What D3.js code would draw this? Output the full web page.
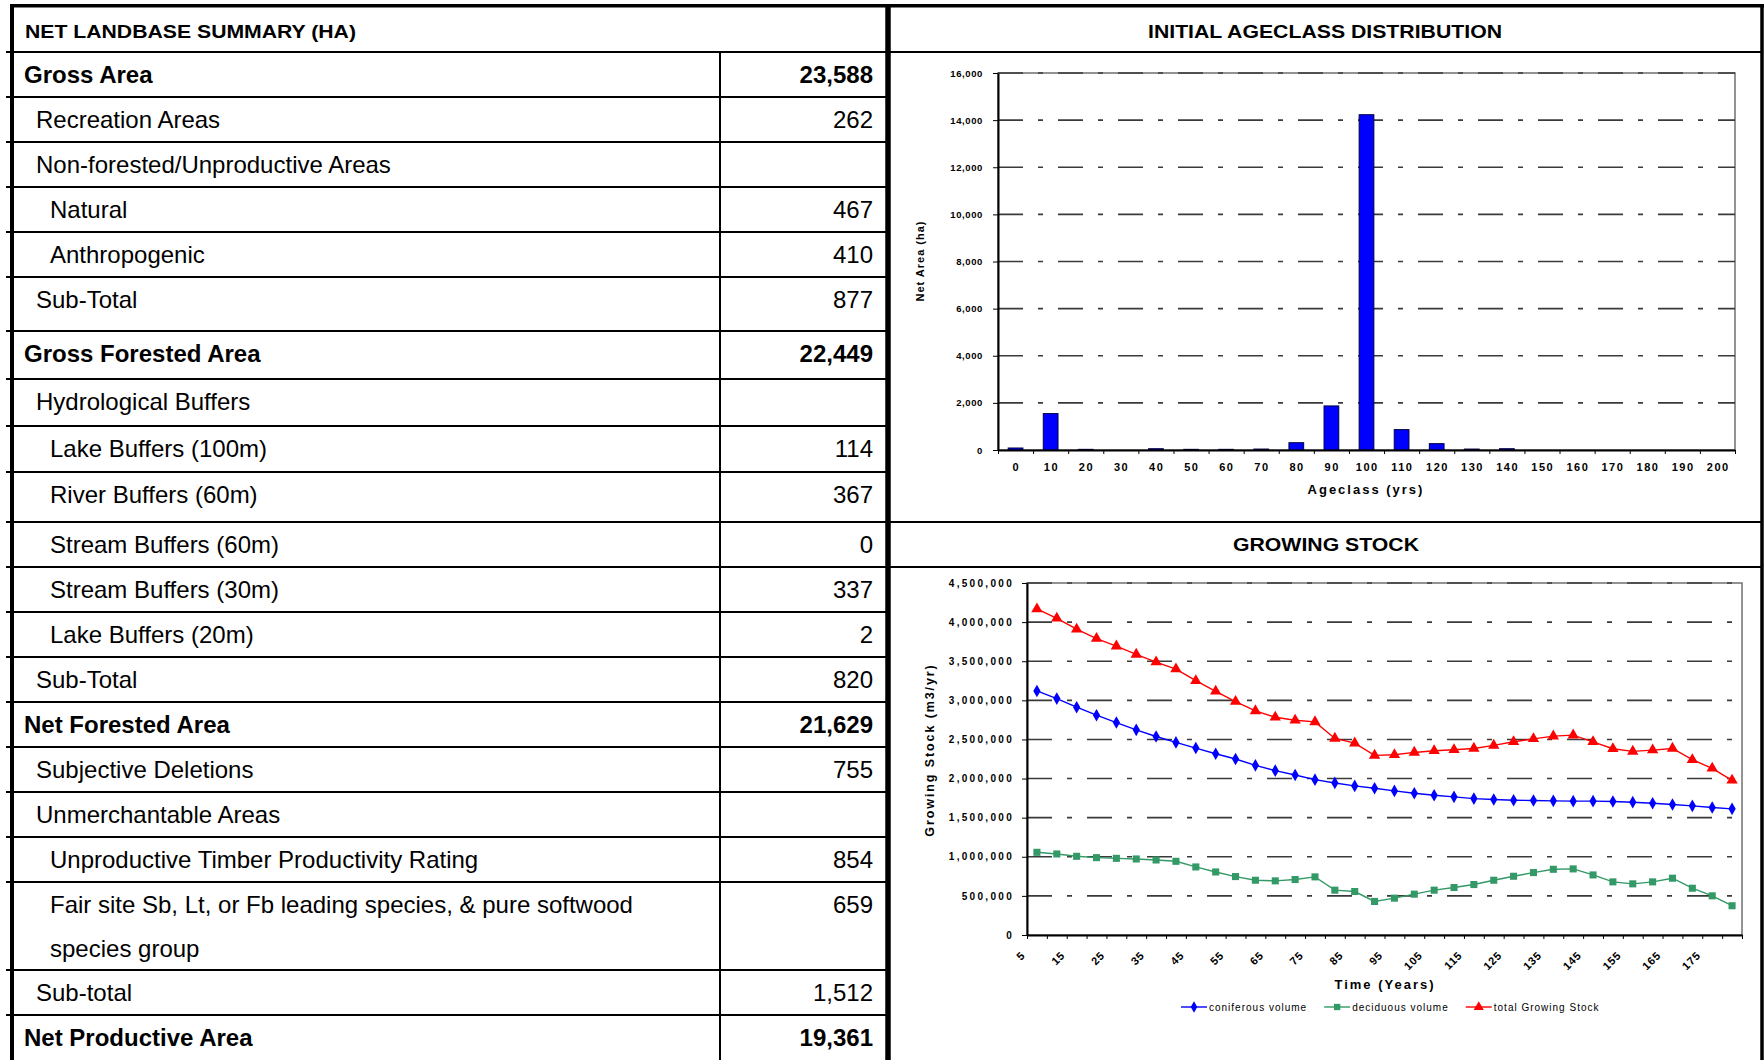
<!DOCTYPE html>
<html>
<head>
<meta charset="utf-8">
<script src="https://cdn.jsdelivr.net/npm/d3@7"></script>
<style>
  body { margin: 0; background: #fff; }
  svg { display: block; font-family: "Liberation Sans", Arial, sans-serif; }
</style>
</head>
<body>
<svg id="page" width="1764" height="1060"></svg>
<script>
// ---- table data ----
const tableTitle = 'NET LANDBASE SUMMARY (HA)';
const rowLabels = [
    'Gross Area', 'Recreation Areas', 'Non-forested/Unproductive Areas', 'Natural', 'Anthropogenic', 'Sub-Total',
    'Gross Forested Area', 'Hydrological Buffers', 'Lake Buffers (100m)', 'River Buffers (60m)',
    'Stream Buffers (60m)', 'Stream Buffers (30m)', 'Lake Buffers (20m)', 'Sub-Total',
    'Net Forested Area', 'Subjective Deletions', 'Unmerchantable Areas', 'Unproductive Timber Productivity Rating',
    'Fair site Sb, Lt, or Fb leading species, & pure softwood\nspecies group', 'Sub-total', 'Net Productive Area'
];
const rowValues = [23588, 262, null, 467, 410, 877, 22449, null, 114, 367, 0, 337, 2, 820, 21629, 755, null, 854, 659, 1512, 19361];
const rowLevels = [0, 1, 1, 2, 2, 1, 0, 1, 2, 2, 2, 2, 2, 1, 0, 1, 1, 2, 2, 1, 0];

// ---- ageclass chart data ----
const ageTitle = 'INITIAL AGECLASS DISTRIBUTION';
const ageClasses = [0, 10, 20, 30, 40, 50, 60, 70, 80, 90, 100, 110, 120, 130, 140, 150, 160, 170, 180, 190, 200];
const ageArea = [85, 1545, 28, 0, 55, 28, 28, 40, 310, 1870, 14230, 865, 270, 40, 55, 0, 0, 0, 0, 0, 0];
const areaTicks = [0, 2000, 4000, 6000, 8000, 10000, 12000, 14000, 16000];

// ---- growing stock data ----
const stockTitle = 'GROWING STOCK';
const years = [5, 10, 15, 20, 25, 30, 35, 40, 45, 50, 55, 60, 65, 70, 75, 80, 85, 90,
    95, 100, 105, 110, 115, 120, 125, 130, 135, 140, 145, 150, 155, 160, 165, 170, 175, 180];
const coniferous = [3120000, 3022000, 2912000, 2810000, 2716000, 2623000, 2538000, 2462000, 2390000, 2317000,
    2250000, 2169000, 2101000, 2046000, 1986000, 1944000, 1906000, 1876000, 1842000, 1812000,
    1787000, 1766000, 1744000, 1732000, 1723000, 1719000, 1715000, 1711000, 1711000, 1706000,
    1698000, 1685000, 1668000, 1651000, 1630000, 1613000];
const deciduous = [1057000, 1036000, 1006000, 989000, 980000, 972000, 959000, 942000, 870000, 806000,
    747000, 700000, 692000, 709000, 743000, 573000, 556000, 429000, 471000, 522000,
    573000, 607000, 645000, 700000, 751000, 798000, 840000, 845000, 768000, 679000,
    654000, 679000, 726000, 598000, 501000, 374000];
const totalStock = [4168000, 4049000, 3909000, 3790000, 3693000, 3587000, 3489000, 3400000, 3251000, 3115000,
    2984000, 2865000, 2784000, 2746000, 2725000, 2513000, 2453000, 2296000, 2305000, 2334000,
    2356000, 2368000, 2385000, 2424000, 2470000, 2508000, 2542000, 2555000, 2470000, 2381000,
    2347000, 2364000, 2385000, 2241000, 2131000, 1978000];
const stockTicks = [0, 500000, 1000000, 1500000, 2000000, 2500000, 3000000, 3500000, 4000000, 4500000];
const seriesNames = ['coniferous volume', 'deciduous volume', 'total Growing Stock'];

// ---- layout ----
const svg = d3.select('#page');
const rowTops = [52, 97, 142, 187, 232, 277, 331, 379, 426, 472, 522, 567, 612, 657, 702, 747, 792, 837, 882, 970, 1015];
const indentX = [24, 36, 50];
const colX = 720, midX = 888, rightX = 1762;
const fmt = d3.format(',');

// grid lines of the table
const frame = svg.append('g').attr('stroke', '#000');
rowTops.forEach((y) => {
    frame.append('line').attr('x1', 6).attr('x2', midX).attr('y1', y).attr('y2', y).attr('stroke-width', 2);
});
frame.append('line').attr('x1', colX).attr('x2', colX).attr('y1', 52).attr('y2', 1060).attr('stroke-width', 2);
[52, 522, 567].forEach((y) => {
    frame.append('line').attr('x1', midX).attr('x2', rightX).attr('y1', y).attr('y2', y).attr('stroke-width', 2);
});
frame.append('line').attr('x1', 10).attr('x2', 1764).attr('y1', 5.7).attr('y2', 5.7).attr('stroke-width', 3.5);
frame.append('line').attr('x1', 12).attr('x2', 12).attr('y1', 4).attr('y2', 1060).attr('stroke-width', 4);
frame.append('line').attr('x1', midX).attr('x2', midX).attr('y1', 4).attr('y2', 1060).attr('stroke-width', 5.5);
frame.append('line').attr('x1', rightX).attr('x2', rightX).attr('y1', 4).attr('y2', 1060).attr('stroke-width', 3.5);

// headers
function header(txt, x, y, anchor, len) {
    svg.append('text').attr('x', x).attr('y', y).attr('text-anchor', anchor)
        .attr('font-size', 18).attr('font-weight', 'bold')
        .attr('textLength', len).attr('lengthAdjust', 'spacingAndGlyphs')
        .text(txt);
}
header(tableTitle, 25, 37.5, 'start', 331);
header(ageTitle, 1325, 37.5, 'middle', 354);
header(stockTitle, 1326, 550.5, 'middle', 186);

// table rows
const table = svg.append('g');
rowLabels.forEach((label, i) => {
    const top = rowTops[i];
    const bold = rowLevels[i] === 0;
    const fs = bold ? 24 : 24;
    label.split('\n').forEach((t, j) => {
        table.append('text')
            .attr('x', indentX[rowLevels[i]])
            .attr('y', top + 22.5 + j * 44)
            .attr('dy', '0.35em')
            .attr('font-size', fs)
            .attr('font-weight', bold ? 'bold' : 'normal')
            .text(t);
    });
    if (rowValues[i] !== null) {
        table.append('text')
            .attr('x', 873)
            .attr('y', top + 22.5)
            .attr('dy', '0.35em')
            .attr('text-anchor', 'end')
            .attr('font-size', fs)
            .attr('font-weight', bold ? 'bold' : 'normal')
            .text(fmt(rowValues[i]));
    }
});

const dash = '25,15,5,15';

// ================= ageclass bar chart =================
const bx = d3.scaleBand().domain(ageClasses).range([998, 1735]);
const bEdge = d3.scaleLinear().domain([0, ageClasses.length]).range([998, 1735]);
const by = d3.scaleLinear().domain([0, 16000]).range([450, 73]);
const bar = svg.append('g');

bar.append('rect')
    .attr('x', 998).attr('y', by(16000))
    .attr('width', 1735 - 998).attr('height', by(0) - by(16000))
    .attr('fill', 'none').attr('stroke', '#707070').attr('stroke-width', 1.5);

bar.selectAll('line.grid')
    .data(areaTicks.filter((d) => d > 0))
    .join('line')
    .attr('class', 'grid')
    .attr('x1', 998).attr('x2', 1735)
    .attr('y1', (d) => by(d)).attr('y2', (d) => by(d))
    .attr('stroke', '#3a3a3a').attr('stroke-width', 1.6)
    .attr('stroke-dasharray', dash);

bar.selectAll('rect.bar')
    .data(ageArea)
    .join('rect')
    .attr('class', 'bar')
    .attr('x', (d, i) => bx(ageClasses[i]) + bx.bandwidth() * 0.29)
    .attr('width', bx.bandwidth() * 0.42)
    .attr('y', (d) => by(d))
    .attr('height', (d) => by(0) - by(d))
    .attr('fill', '#0000ff')
    .attr('stroke', '#000040')
    .attr('stroke-width', 1);

const bLeft = bar.append('g')
    .attr('transform', 'translate(998,0)')
    .call(d3.axisLeft(by).tickValues(areaTicks).tickFormat(fmt).tickSize(5).tickSizeOuter(0).tickPadding(10));
bLeft.attr('font-family', null).attr('font-size', 9.5).attr('font-weight', 'bold');
bLeft.selectAll('text').attr('letter-spacing', 0.6);
bLeft.select('.domain').attr('stroke-width', 2);

const bTicks = bar.append('g')
    .attr('transform', 'translate(0,450)')
    .call(d3.axisBottom(bEdge).tickValues(d3.range(ageClasses.length + 1)).tickFormat('').tickSize(4).tickSizeOuter(0));
bTicks.select('.domain').attr('stroke-width', 2);

const bBottom = bar.append('g')
    .attr('transform', 'translate(0,450)')
    .call(d3.axisBottom(bx).tickSize(0).tickPadding(13));
bBottom.select('.domain').remove();
bBottom.attr('font-family', null).attr('font-size', 11).attr('font-weight', 'bold');
bBottom.selectAll('text').attr('letter-spacing', 1.5).attr('dx', 0.75);

bar.append('text')
    .attr('x', 1366).attr('y', 489).attr('dy', '0.36em')
    .attr('text-anchor', 'middle')
    .attr('font-size', 13).attr('font-weight', 'bold').attr('letter-spacing', 2)
    .text('Ageclass (yrs)');

bar.append('text')
    .attr('transform', 'translate(920,261) rotate(-90)')
    .attr('dy', '0.36em')
    .attr('text-anchor', 'middle')
    .attr('font-size', 11).attr('font-weight', 'bold').attr('letter-spacing', 1)
    .text('Net Area (ha)');

// ================= growing stock line chart =================
const lx = d3.scaleBand().domain(years).range([1027, 1742]);
const lEdge = d3.scaleLinear().domain([0, years.length]).range([1027, 1742]);
const ly = d3.scaleLinear().domain([0, 4500000]).range([935, 583]);
const lc = svg.append('g');

lc.append('rect')
    .attr('x', 1027).attr('y', ly(4500000))
    .attr('width', 1742 - 1027).attr('height', ly(0) - ly(4500000))
    .attr('fill', 'none').attr('stroke', '#707070').attr('stroke-width', 1.5);

lc.selectAll('line.grid')
    .data(stockTicks.filter((d) => d > 0))
    .join('line')
    .attr('class', 'grid')
    .attr('x1', 1027).attr('x2', 1742)
    .attr('y1', (d) => ly(d)).attr('y2', (d) => ly(d))
    .attr('stroke', '#3a3a3a').attr('stroke-width', 1.6)
    .attr('stroke-dasharray', dash);

const lLeft = lc.append('g')
    .attr('transform', 'translate(1027,0)')
    .call(d3.axisLeft(ly).tickValues(stockTicks).tickFormat(fmt).tickSize(5).tickSizeOuter(0).tickPadding(8));
lLeft.attr('font-family', null).attr('font-size', 10).attr('font-weight', 'bold');
lLeft.selectAll('text').attr('letter-spacing', 2.3);
lLeft.select('.domain').attr('stroke-width', 2);

const lTicks = lc.append('g')
    .attr('transform', 'translate(0,935)')
    .call(d3.axisBottom(lEdge).tickValues(d3.range(years.length + 1)).tickFormat('').tickSize(4).tickSizeOuter(0));
lTicks.select('.domain').attr('stroke-width', 2);

lc.selectAll('text.xl')
    .data(years.filter((d, i) => i % 2 === 0))
    .join('text')
    .attr('class', 'xl')
    .attr('transform', (d) => 'translate(' + (lx(d) - 1) + ',956) rotate(-45)')
    .attr('text-anchor', 'end')
    .attr('font-size', 11).attr('font-weight', 'bold').attr('letter-spacing', 0.8)
    .text((d) => d);

const series = [
    { name: seriesNames[0], values: coniferous, color: '#0000ff', symbol: d3.symbolDiamond, size: 46 },
    { name: seriesNames[1], values: deciduous, color: '#339966', symbol: d3.symbolSquare, size: 50 },
    { name: seriesNames[2], values: totalStock, color: '#ff0000', symbol: d3.symbolTriangle, size: 56 }
];

const line = d3.line()
    .x((d, i) => lx(years[i]) + lx.bandwidth() / 2)
    .y((d) => ly(d));

series.forEach((s) => {
    lc.append('path')
        .attr('d', line(s.values))
        .attr('fill', 'none')
        .attr('stroke', s.color)
        .attr('stroke-width', 1.4);
    lc.selectAll(null)
        .data(s.values)
        .join('path')
        .attr('transform', (d, i) => 'translate(' + (lx(years[i]) + lx.bandwidth() / 2) + ',' + ly(d) + ')')
        .attr('d', d3.symbol(s.symbol, s.size))
        .attr('fill', s.color);
});

lc.append('text')
    .attr('x', 1385).attr('y', 984).attr('dy', '0.36em')
    .attr('text-anchor', 'middle')
    .attr('font-size', 13).attr('font-weight', 'bold').attr('letter-spacing', 2)
    .text('Time (Years)');

lc.append('text')
    .attr('transform', 'translate(929,750) rotate(-90)')
    .attr('dy', '0.36em')
    .attr('text-anchor', 'middle')
    .attr('font-size', 12.5).attr('font-weight', 'bold').attr('letter-spacing', 1.9)
    .text('Growing Stock (m3/yr)');

// legend
const legend = lc.append('g').attr('transform', 'translate(1181,1007)');
let lxPos = 0;
series.forEach((s) => {
    const item = legend.append('g').attr('transform', 'translate(' + lxPos + ',0)');
    item.append('line').attr('x1', 0).attr('x2', 26).attr('y1', 0).attr('y2', 0)
        .attr('stroke', s.color).attr('stroke-width', 1.4);
    item.append('path').attr('transform', 'translate(13,0)')
        .attr('d', d3.symbol(s.symbol, s.size * 0.8)).attr('fill', s.color);
    const t = item.append('text').attr('x', 28).attr('dy', '0.36em')
        .attr('font-size', 10).attr('letter-spacing', 1.0)
        .text(s.name);
    lxPos += 28 + t.node().getComputedTextLength() + 17;
});
</script>
</body>
</html>
